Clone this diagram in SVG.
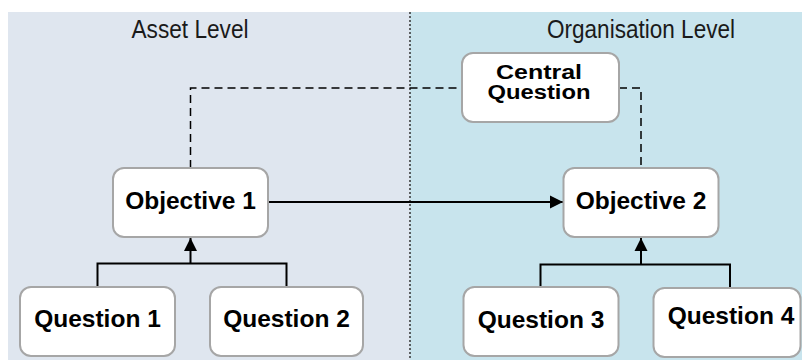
<svg xmlns="http://www.w3.org/2000/svg" width="802" height="360" viewBox="0 0 802 360">
<style>
.box{fill:#fff;stroke:#a6a6a6;stroke-width:2}
.lbl{font-family:"Liberation Sans",Arial,sans-serif;font-weight:bold;font-size:24.5px;fill:#000;text-anchor:middle}
.lbl2{font-family:"Liberation Sans",Arial,sans-serif;font-weight:bold;font-size:20px;fill:#000;text-anchor:middle}
.title{font-family:"Liberation Sans",Arial,sans-serif;font-size:25.5px;fill:#1a1a1a;text-anchor:middle}
.conn{fill:none;stroke:#000;stroke-width:2}
.dash{fill:none;stroke:#000;stroke-width:1.5;stroke-dasharray:8,5}
</style>
<defs>
<marker id="arr" markerUnits="userSpaceOnUse" markerWidth="14" markerHeight="14" refX="13" refY="7" orient="auto">
<path d="M0,0.5 L13,7 L0,13.5 z" fill="#000"/>
</marker>
</defs>
<g id="background">
<rect x="8" y="12" width="402" height="348" fill="#dfe6ef"/>
<rect x="410" y="12" width="392" height="348" fill="#c8e4ed"/>
<line x1="410" y1="12" x2="410" y2="360" stroke="#333" stroke-width="1.5" stroke-dasharray="2,2"/>
<text class="title" x="190" y="38.3" textLength="117" lengthAdjust="spacingAndGlyphs">Asset Level</text>
<text class="title" x="641" y="38.3" textLength="188" lengthAdjust="spacingAndGlyphs">Organisation Level</text>
</g>
<g id="connectors">
<path class="dash" d="M190.5,168 V88 H462"/>
<path class="dash" d="M619,88 H641 V168"/>
<line class="conn" x1="268" y1="202" x2="563" y2="202" marker-end="url(#arr)"/>
<path class="conn" d="M97.5,287 V263.5 H286.5 V287"/>
<line class="conn" x1="190.5" y1="263.5" x2="190.5" y2="238" marker-end="url(#arr)"/>
<path class="conn" d="M540.5,287 V264.5 H730 V288"/>
<line class="conn" x1="641" y1="264.5" x2="641" y2="238" marker-end="url(#arr)"/>
</g>
<g id="central">
<rect class="box" x="462" y="53" width="157" height="69" rx="11"/>
<text class="lbl2" x="539" y="79" textLength="86" lengthAdjust="spacingAndGlyphs">Central</text>
<text class="lbl2" x="539" y="99" textLength="103" lengthAdjust="spacingAndGlyphs">Question</text>
</g>
<g id="objective1">
<rect class="box" x="113" y="168" width="155" height="69" rx="11"/>
<text class="lbl" x="190.5" y="209">Objective 1</text>
</g>
<g id="objective2">
<rect class="box" x="563.5" y="168" width="155" height="69" rx="11"/>
<text class="lbl" x="641" y="209">Objective 2</text>
</g>
<g id="question1">
<rect class="box" x="20" y="287" width="155" height="69" rx="11"/>
<text class="lbl" x="97.5" y="327">Question 1</text>
</g>
<g id="question2">
<rect class="box" x="210" y="287" width="153" height="69" rx="11"/>
<text class="lbl" x="286.5" y="327">Question 2</text>
</g>
<g id="question3">
<rect class="box" x="463.5" y="287" width="155" height="69" rx="11"/>
<text class="lbl" x="541" y="327.5">Question 3</text>
</g>
<g id="question4">
<rect class="box" x="653.5" y="288" width="147" height="69" rx="11"/>
<text class="lbl" x="731" y="324">Question 4</text>
</g>
</svg>
